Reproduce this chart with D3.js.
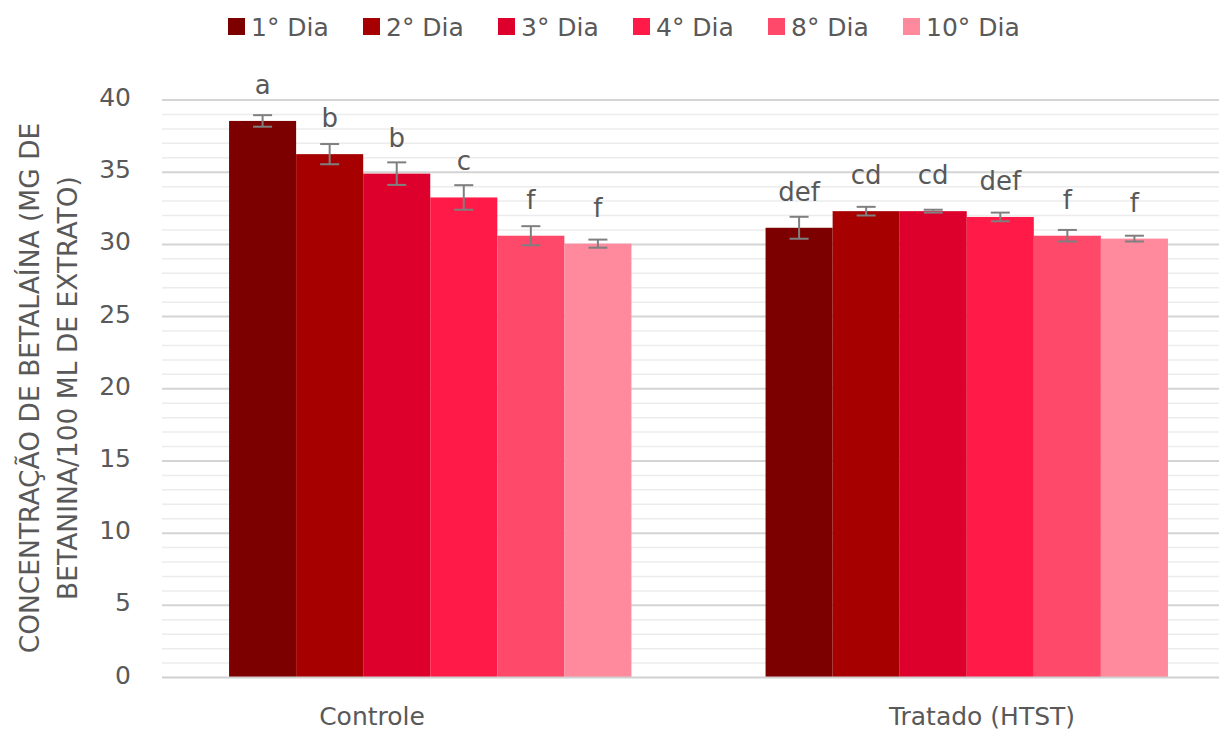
<!DOCTYPE html>
<html>
<head>
<meta charset="utf-8">
<script src="https://cdn.jsdelivr.net/npm/d3@7"></script>
<style>
  html, body { margin: 0; padding: 0; background: #fff; }
  svg { display: block; }
  text { font-family: "DejaVu Sans", sans-serif; fill: #595959; }
</style>
</head>
<body>
<svg id="chart" width="1219" height="733"></svg>
<script>
// ---- data ----
const categories = ["Controle", "Tratado (HTST)"];
const series = ["1° Dia", "2° Dia", "3° Dia", "4° Dia", "8° Dia", "10° Dia"];
const controleValues = [38.55, 36.25, 34.9, 33.25, 30.6, 30.05];
const controleErrors = [0.4, 0.7, 0.78, 0.85, 0.66, 0.28];
const controleLetters = ["a", "b", "b", "c", "f", "f"];
const tratadoValues = [31.15, 32.3, 32.3, 31.9, 30.6, 30.4];
const tratadoErrors = [0.76, 0.3, 0.1, 0.3, 0.4, 0.2];
const tratadoLetters = ["def", "cd", "cd", "def", "f", "f"];
const yTicks = [0, 5, 10, 15, 20, 25, 30, 35, 40];
const colors = ["#7d0000", "#a60000", "#de002c", "#ff1a47", "#ff496b", "#ff8a9e"];
const yTitleLines = ["CONCENTRAÇÃO DE BETALAÍNA (MG DE", "BETANINA/100 ML DE EXTRATO)"];

const rows = [];
categories.forEach((c, ci) => {
  const vals = ci === 0 ? controleValues : tratadoValues;
  const errs = ci === 0 ? controleErrors : tratadoErrors;
  const lets = ci === 0 ? controleLetters : tratadoLetters;
  series.forEach((s, si) => rows.push({cat: c, ser: s, v: vals[si], e: errs[si], l: lets[si], color: colors[si]}));
});

// ---- layout ----
const svg = d3.select("#chart");
const plotLeft = 162, plotRight = 1235, plotBottom = 677.5, plotTop = 100;

const y = d3.scaleLinear().domain([0, 40]).range([plotBottom, plotTop]);
const x0 = d3.scaleBand().domain(categories).range([plotLeft, plotRight]);
const x1 = d3.scaleBand().domain(series).range([0, x0.bandwidth()]).paddingOuter(1);
const xLabel = d3.scalePoint().domain(categories).range([372, 982]);
const color = d3.scaleOrdinal().domain(series).range(colors);

// gridlines
const minor = d3.range(0, 41, 1).filter(d => d % 5 !== 0);
svg.append("g").selectAll("line").data(minor).join("line")
  .attr("x1", plotLeft).attr("x2", 1219)
  .attr("y1", d => y(d)).attr("y2", d => y(d))
  .attr("stroke", "#ececec").attr("stroke-width", 1.5);
svg.append("g").selectAll("line").data(yTicks.filter(d => d > 0)).join("line")
  .attr("x1", plotLeft).attr("x2", 1219)
  .attr("y1", d => y(d)).attr("y2", d => y(d))
  .attr("stroke", "#d4d4d4").attr("stroke-width", 2);

// bars
svg.append("g").selectAll("rect").data(rows).join("rect")
  .attr("x", d => x0(d.cat) + x1(d.ser))
  .attr("y", d => y(d.v))
  .attr("width", x1.bandwidth())
  .attr("height", d => y(0) - y(d.v))
  .attr("fill", d => color(d.ser));

// x axis line
svg.append("line")
  .attr("x1", plotLeft).attr("x2", 1219)
  .attr("y1", y(0)).attr("y2", y(0))
  .attr("stroke", "#d0d0d0").attr("stroke-width", 2);

// error bars
const eb = svg.append("g").attr("stroke", "#7f7f7f").attr("stroke-width", 2);
rows.forEach(d => {
  const cx = x0(d.cat) + x1(d.ser) + x1.bandwidth() / 2;
  eb.append("line").attr("x1", cx).attr("x2", cx).attr("y1", y(d.v - d.e)).attr("y2", y(d.v + d.e));
  eb.append("line").attr("x1", cx - 9.5).attr("x2", cx + 9.5).attr("y1", y(d.v - d.e)).attr("y2", y(d.v - d.e));
  eb.append("line").attr("x1", cx - 9.5).attr("x2", cx + 9.5).attr("y1", y(d.v + d.e)).attr("y2", y(d.v + d.e));
});

// significance letters
svg.append("g").selectAll("text").data(rows).join("text")
  .attr("x", d => x0(d.cat) + x1(d.ser) + x1.bandwidth() / 2)
  .attr("y", d => y(d.v) - 27)
  .attr("text-anchor", "middle")
  .style("font-size", "26px")
  .text(d => d.l);

// y tick labels
svg.append("g").selectAll("text").data(yTicks).join("text")
  .attr("x", 131).attr("y", d => y(d) + 6)
  .attr("text-anchor", "end")
  .style("font-size", "25px")
  .text(d => d);

// x labels
svg.append("g").selectAll("text").data(categories).join("text")
  .attr("x", d => xLabel(d)).attr("y", 725)
  .attr("text-anchor", "middle")
  .style("font-size", "25px")
  .text(d => d);

// y title
const yt = svg.append("text")
  .attr("transform", "translate(0,388) rotate(-90)")
  .attr("text-anchor", "middle")
  .style("font-size", "26.5px");
yt.selectAll("tspan").data(yTitleLines).join("tspan")
  .attr("x", 0).attr("y", (d, i) => 39 + i * 38)
  .text(d => d);

// legend
const lx = d3.scalePoint().domain(series).range([228, 903]);
const lg = svg.append("g").selectAll("g").data(series).join("g")
  .attr("transform", d => `translate(${lx(d)},0)`);
lg.append("rect").attr("x", 0).attr("y", 18).attr("width", 17).attr("height", 17)
  .attr("fill", d => color(d));
lg.append("text").attr("x", 23).attr("y", 36).style("font-size", "25px").text(d => d);
</script>
</body>
</html>
